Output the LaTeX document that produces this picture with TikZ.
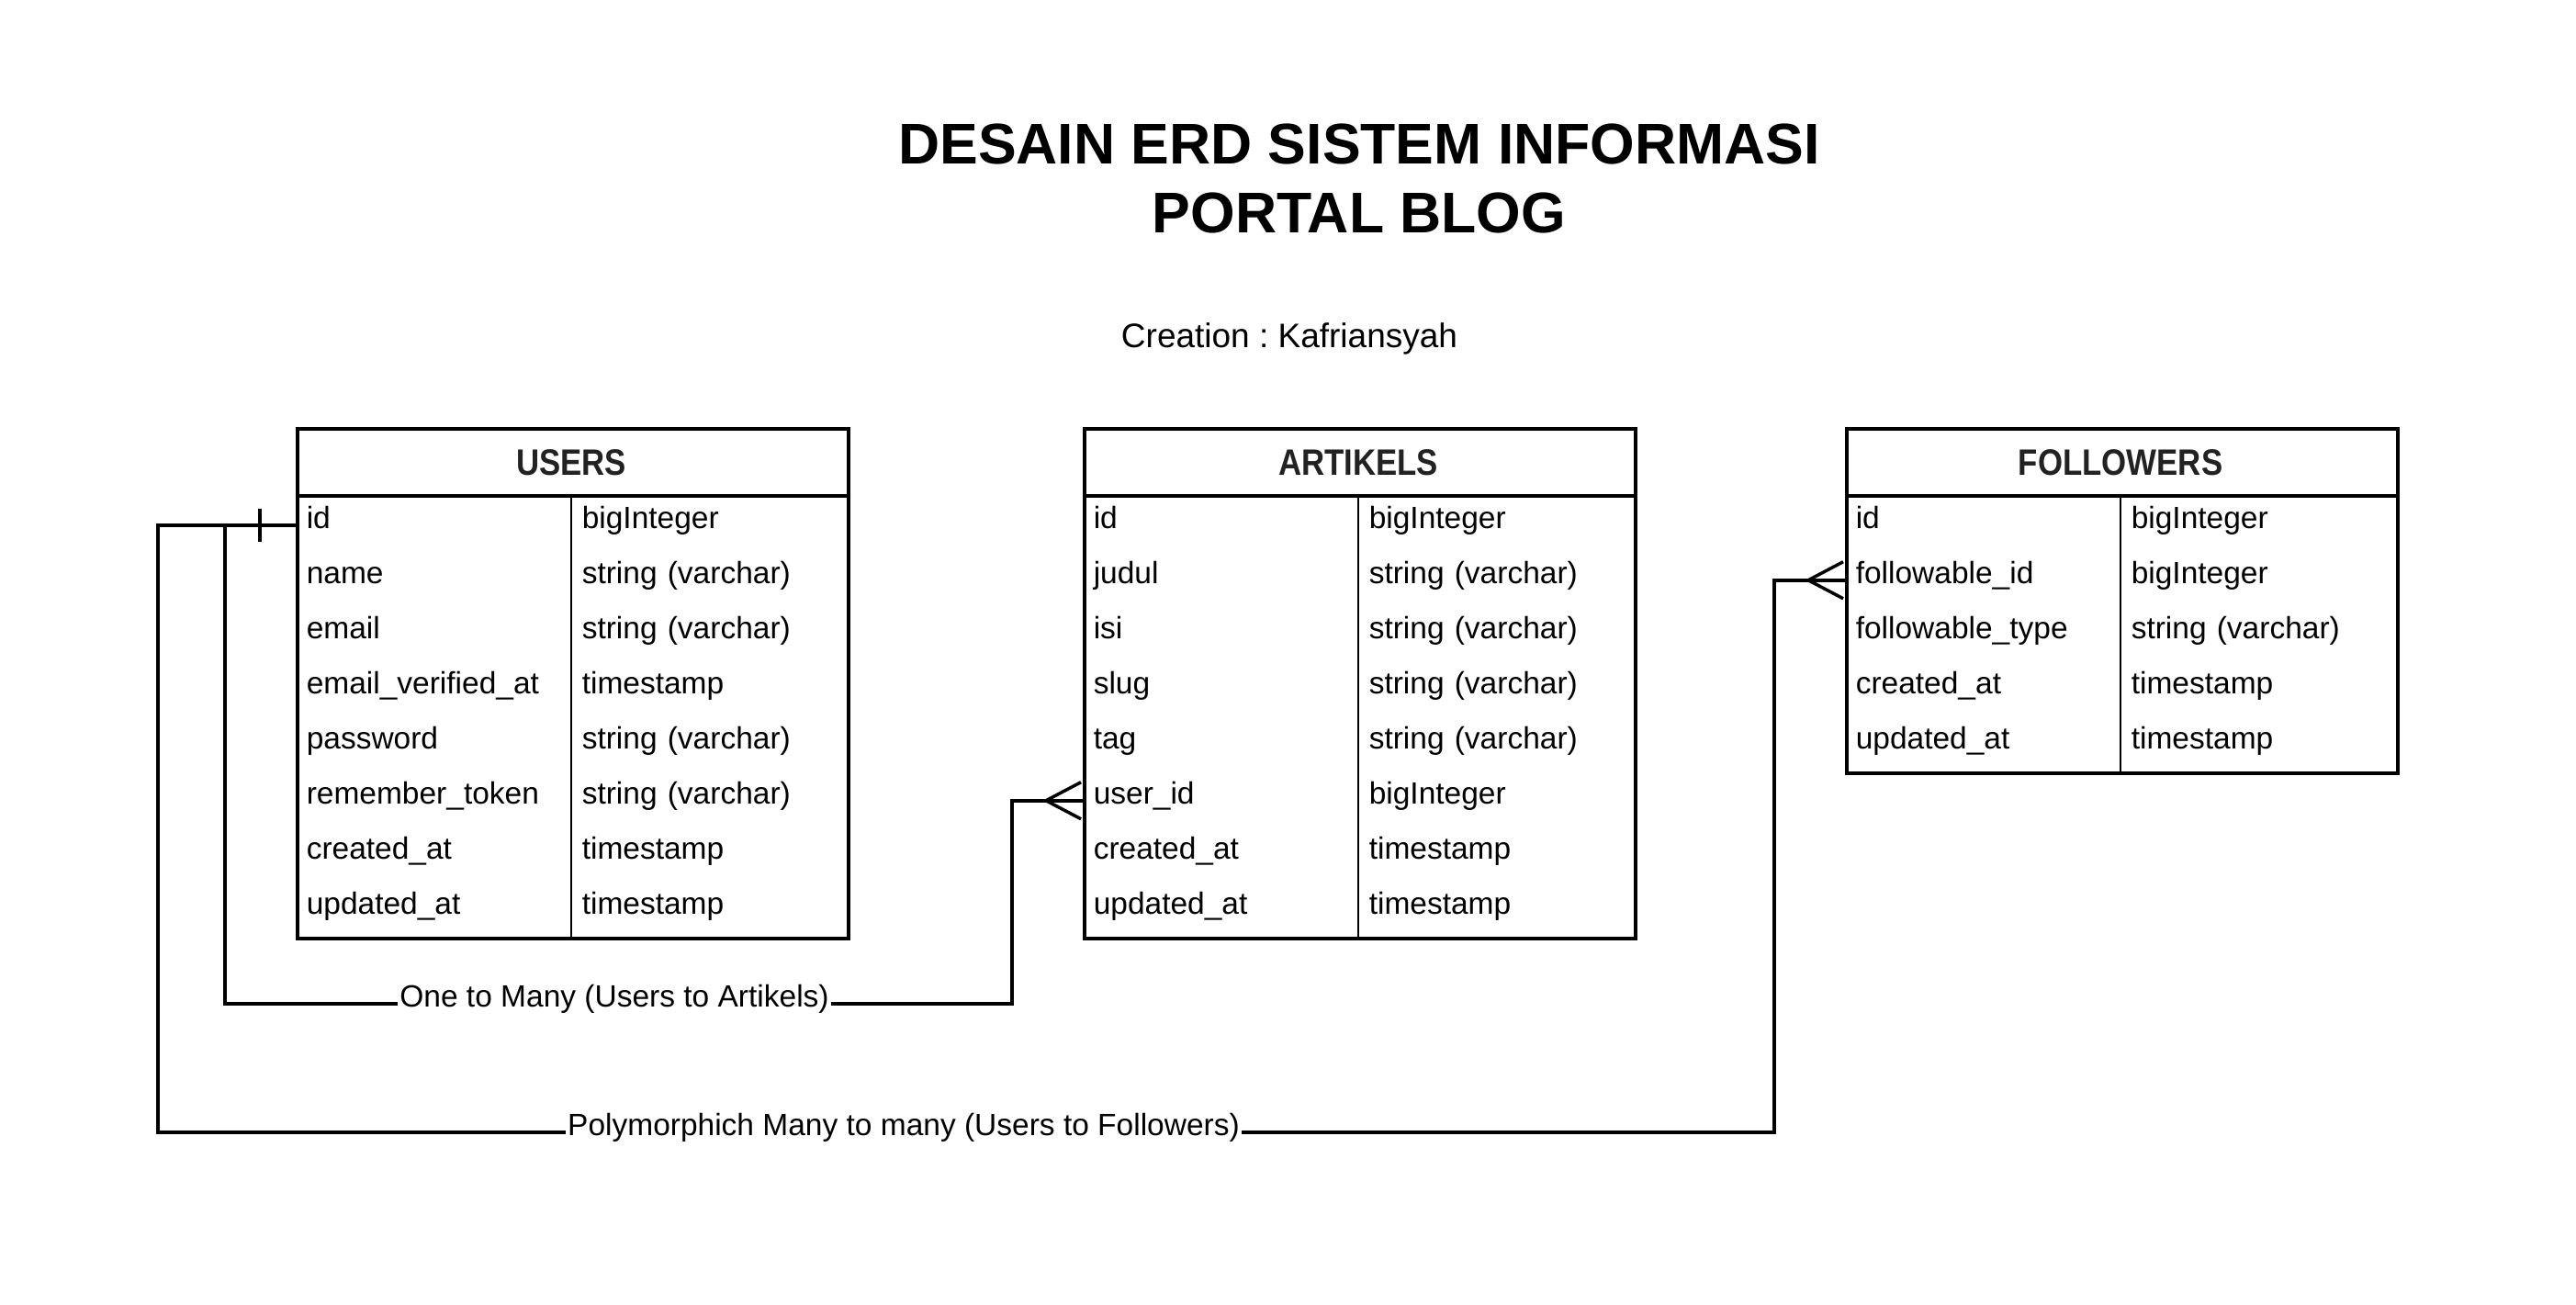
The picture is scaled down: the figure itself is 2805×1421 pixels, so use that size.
\documentclass[tikz,border=0pt]{standalone}
\usepackage{fontspec}
\setmainfont{Liberation Sans}
\newfontfamily\hdrfont[FakeStretch=0.87]{Liberation Sans}
\definecolor{hdrgray}{HTML}{222222}
\frenchspacing
\begin{document}
\begin{tikzpicture}[x=1pt,y=-1pt,line width=3.5pt,
  tbl/.style={draw,line width=3.5pt,inner sep=0pt,anchor=north west,minimum width=600pt},
  cell/.style={inner sep=0pt,anchor=north west,minimum width=300pt,minimum height=60pt,
    text width=280pt,align=left,font=\fontsize{33.5}{40}\selectfont,
    text height=0.905em,text depth=0.17em},
  hdr/.style={inner sep=0pt,anchor=base,font=\hdrfont\fontsize{40}{46}\selectfont\bfseries,text=hdrgray},
  ttl/.style={inner sep=0pt,anchor=base,font=\fontsize{62.5}{76}\selectfont\bfseries},
  lbl/.style={fill=white,inner xsep=2pt,inner ysep=2pt,font=\fontsize{33.5}{40}\selectfont,
    text height=0.905em,text depth=0.17em},
  rel/.style={line width=3.5pt},
  divline/.style={line width=2.8pt}]
\useasboundingbox (0,0) rectangle (2805,1421);
\fill[white] (0,0) rectangle (2805,1421);

% titles
\node[ttl] (t1) at (1480,178) {DESAIN ERD SISTEM INFORMASI};
\node[ttl] (t2) at (1480,253) {PORTAL BLOG};
\node[inner sep=0pt,anchor=base,font=\fontsize{37}{44}\selectfont] (cr) at (1404,378) {Creation : Kafriansyah};

% USERS
\node[tbl,minimum height=555pt] (users) at (322,465) {};
\node[hdr] (uh) at (622,517) {USERS};
\draw ([yshift=-75pt]users.north west) -- ([yshift=-75pt]users.north east);
\draw[divline] ([xshift=300pt,yshift=-75pt]users.north west) -- ([xshift=300pt]users.south west);
\foreach \n/\t [count=\i] in {id/bigInteger,name/string (varchar),email/string (varchar),
  email\_verified\_at/timestamp,password/string (varchar),remember\_token/string (varchar),
  created\_at/timestamp,updated\_at/timestamp}{
  \node[cell] (u\i) at (322,{480+60*\i}) {\n};
  \node[cell] (ut\i) at (622,{480+60*\i}) {\t};
}

% ARTIKELS
\node[tbl,minimum height=555pt] (artikels) at (1179,465) {};
\node[hdr] (ah) at (1479,517) {ARTIKELS};
\draw ([yshift=-75pt]artikels.north west) -- ([yshift=-75pt]artikels.north east);
\draw[divline] ([xshift=300pt,yshift=-75pt]artikels.north west) -- ([xshift=300pt]artikels.south west);
\foreach \n/\t [count=\i] in {id/bigInteger,judul/string (varchar),isi/string (varchar),
  slug/string (varchar),tag/string (varchar),user\_id/bigInteger,
  created\_at/timestamp,updated\_at/timestamp}{
  \node[cell] (a\i) at (1179,{480+60*\i}) {\n};
  \node[cell] (at\i) at (1479,{480+60*\i}) {\t};
}

% FOLLOWERS
\node[tbl,minimum height=375pt] (followers) at (2009,465) {};
\node[hdr] (fh) at (2309,517) {FOLLOWERS};
\draw ([yshift=-75pt]followers.north west) -- ([yshift=-75pt]followers.north east);
\draw[divline] ([xshift=300pt,yshift=-75pt]followers.north west) -- ([xshift=300pt]followers.south west);
\foreach \n/\t [count=\i] in {id/bigInteger,followable\_id/bigInteger,
  followable\_type/string (varchar),created\_at/timestamp,updated\_at/timestamp}{
  \node[cell] (f\i) at (2009,{480+60*\i}) {\n};
  \node[cell] (ft\i) at (2309,{480+60*\i}) {\t};
}

% relation coordinates
\coordinate (k1) at (245,1093);
\coordinate (k2) at (1102,1093);
\coordinate (k3) at (172,1233);
\coordinate (k4) at (1932,1233);

% relation 1: users -> artikels
\draw[rel] (u1.west) -- (u1.west -| k1) |- (k2) |- (a6.west);
% relation 2: users -> followers
\draw[rel] (u1.west) -- (u1.west -| k3) |- (k4) |- (f2.west);

% one bar
\draw[rel] ([xshift=-39pt,yshift=18pt]u1.west) -- ([xshift=-39pt,yshift=-18pt]u1.west);
% crow feet
\draw[rel] ([xshift=-2pt,yshift=20pt]a6.west) -- ([xshift=-40pt]a6.west) -- ([xshift=-2pt,yshift=-20pt]a6.west);
\draw[rel] ([xshift=-2pt,yshift=20pt]f2.west) -- ([xshift=-40pt]f2.west) -- ([xshift=-2pt,yshift=-20pt]f2.west);

% labels
\node[lbl] (l1) at (669,1093) {One to Many (Users to Artikels)};
\node[lbl] (l2) at (984,1233) {Polymorphich Many to many (Users to Followers)};
\end{tikzpicture}
\end{document}
